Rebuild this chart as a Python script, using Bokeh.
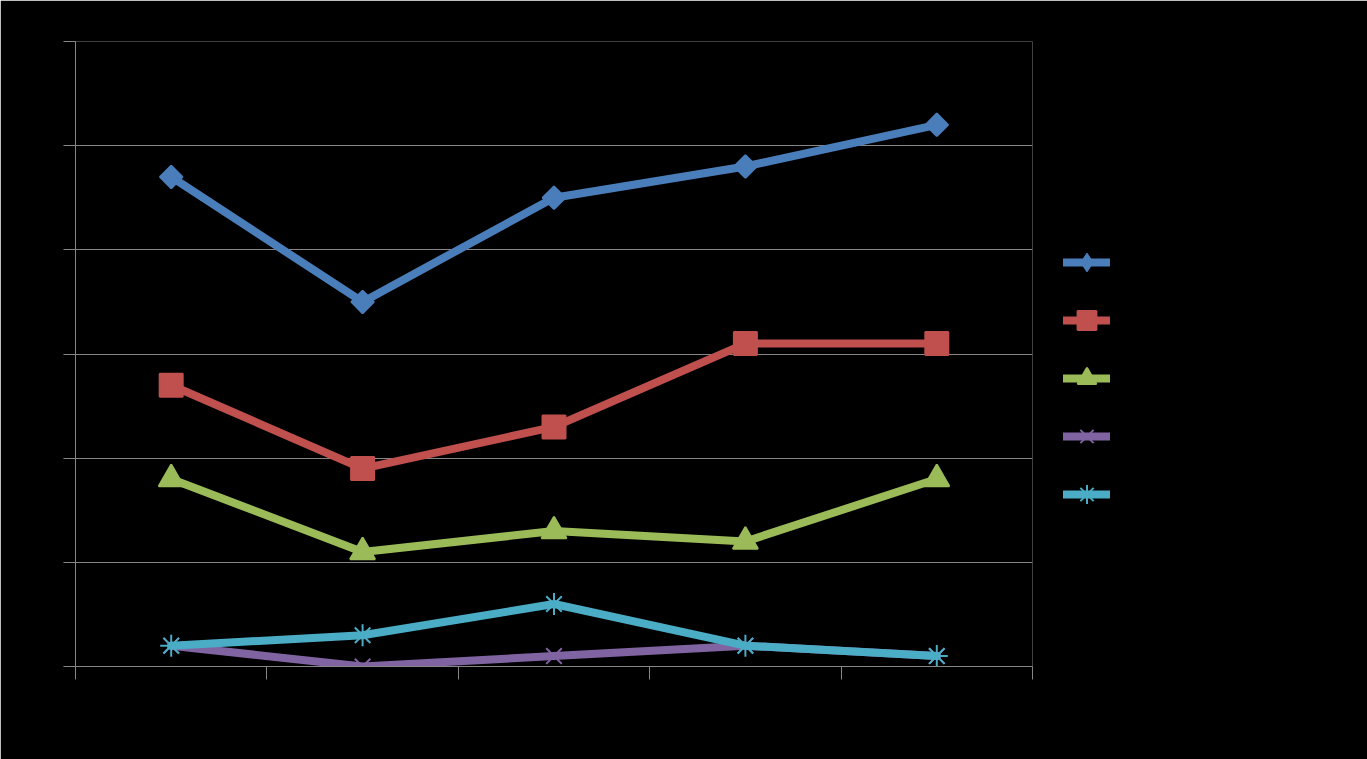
import math
from bokeh.plotting import figure
from bokeh.models import FixedTicker, Legend, LegendItem, Range1d
from bokeh.embed import file_html
from bokeh.resources import INLINE

# Data (5 categories, no visible labels in the reference)
x_pos = [0.5, 1.5, 2.5, 3.5, 4.5]
s1 = [47, 35, 45, 48, 52]
s2 = [27, 19, 23, 31, 31]
s3 = [18, 11, 13, 12, 18]
s4 = [2, 0, 1, 2, 1]
s5 = [2, 3, 6, 2, 1]
y_ticks = [0, 10, 20, 30, 40, 50, 60]
x_ticks = [0, 1, 2, 3, 4, 5]

# (values, colour, marker, size, angle, legend marker)
series = [
    (s1, "#4A7EBB", "square", 16, math.pi / 4, "diamond"),
    (s2, "#C0504D", "square", 23, 0, None),
    (s3, "#9BBB59", "triangle", 25, 0, None),
    (s4, "#8064A2", "x", 22, 0, None),
    (s5, "#4BACC6", "asterisk", 22, 0, None),
]

p = figure(frame_width=957, frame_height=625, output_backend="svg", toolbar_location=None,
           x_range=Range1d(0, 5), y_range=Range1d(0, 60),
           min_border_left=75, min_border_top=41, min_border_bottom=93, min_border_right=0)
p.background_fill_color = "black"
p.border_fill_color = "black"
p.outline_line_color = None

grey = "#868686"
p.xgrid.grid_line_color = None
p.ygrid.grid_line_color = grey
p.ygrid.ticker = FixedTicker(ticks=y_ticks)

p.yaxis.ticker = FixedTicker(ticks=y_ticks)
p.xaxis.ticker = FixedTicker(ticks=x_ticks)
for ax in (p.xaxis[0], p.yaxis[0]):
    ax.axis_line_color = grey
    ax.major_tick_line_color = grey
    ax.major_tick_in = 0
    ax.minor_tick_line_color = None
    ax.major_label_text_color = "black"
    ax.major_label_text_font_size = "1px"
p.yaxis.major_tick_out = 12
p.xaxis.major_tick_out = 13

items = []
for ys, col, mk, sz, ang, leg_mk in series:
    ln = p.line(x_pos, ys, line_color=col, line_width=8, line_cap="round", line_join="round")
    sc = p.scatter(x_pos, ys, marker=mk, size=sz, angle=ang, fill_color=col,
                   line_color=col, line_width=2)
    if leg_mk is not None:
        # diamond drawn inside the rotated squares (hidden there) so the legend shows a diamond
        sc = p.scatter(x_pos, ys, marker=leg_mk, size=21, fill_color=col, line_color=col, line_width=1)
    items.append(LegendItem(label=" ", renderers=[ln, sc]))

legend = Legend(items=items, location=(31, 143), glyph_width=47, glyph_height=58,
                label_height=58, label_width=1, label_standoff=0, spacing=0, padding=0, margin=0,
                border_line_color=None, background_fill_alpha=0,
                label_text_color="black", label_text_font_size="1px")
p.add_layout(legend, "right")

html = file_html(p, INLINE)
html = html.replace("<body>", '<body style="background:black;margin:0;overflow:hidden">', 1)
open("out.html", "w").write(html)
